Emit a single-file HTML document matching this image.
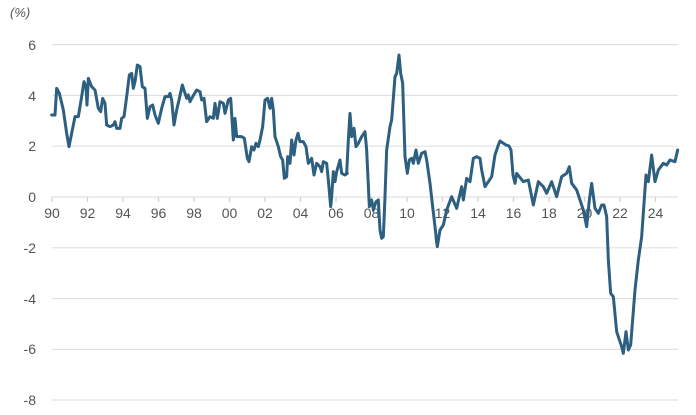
<!DOCTYPE html>
<html><head><style>
body{margin:0;background:#fff;}
svg{display:block;font-family:"Liberation Sans",sans-serif;}
</style></head><body>
<svg width="696" height="415" viewBox="0 0 696 415">
<text x="10" y="17" font-size="13" font-style="italic" fill="#555">(%)</text>
<g stroke="#e0e0e0" stroke-width="1.2">
<line x1="52" y1="44.6" x2="678" y2="44.6"/>
<line x1="52" y1="95.4" x2="678" y2="95.4"/>
<line x1="52" y1="146.2" x2="678" y2="146.2"/>
<line x1="52" y1="197" x2="678" y2="197"/>
<line x1="52" y1="247.8" x2="678" y2="247.8"/>
<line x1="52" y1="298.6" x2="678" y2="298.6"/>
<line x1="52" y1="349.4" x2="678" y2="349.4"/>
<line x1="52" y1="400" x2="678" y2="400"/>
</g>
<g stroke="#d0d0d0" stroke-width="1.2">
<line x1="52" y1="197" x2="52" y2="202"/><line x1="87.5" y1="197" x2="87.5" y2="202"/><line x1="123" y1="197" x2="123" y2="202"/><line x1="158.5" y1="197" x2="158.5" y2="202"/><line x1="194" y1="197" x2="194" y2="202"/><line x1="229.5" y1="197" x2="229.5" y2="202"/><line x1="265" y1="197" x2="265" y2="202"/><line x1="300.5" y1="197" x2="300.5" y2="202"/><line x1="336" y1="197" x2="336" y2="202"/><line x1="371.5" y1="197" x2="371.5" y2="202"/><line x1="407" y1="197" x2="407" y2="202"/><line x1="442.5" y1="197" x2="442.5" y2="202"/><line x1="478" y1="197" x2="478" y2="202"/><line x1="513.5" y1="197" x2="513.5" y2="202"/><line x1="549" y1="197" x2="549" y2="202"/><line x1="584.5" y1="197" x2="584.5" y2="202"/><line x1="620" y1="197" x2="620" y2="202"/><line x1="655.5" y1="197" x2="655.5" y2="202"/>
</g>
<g font-size="14" fill="#555" text-anchor="end">
<text x="36" y="50">6</text><text x="36" y="101">4</text><text x="36" y="151">2</text><text x="36" y="202">0</text>
<text x="36" y="253">-2</text><text x="36" y="304">-4</text><text x="36" y="354">-6</text><text x="36" y="405">-8</text>
</g>
<g font-size="14" fill="#555" text-anchor="middle">
<text x="52" y="218">90</text><text x="87.5" y="218">92</text><text x="123" y="218">94</text><text x="158.5" y="218">96</text><text x="194" y="218">98</text><text x="229.5" y="218">00</text><text x="265" y="218">02</text><text x="300.5" y="218">04</text><text x="336" y="218">06</text><text x="371.5" y="218">08</text><text x="407" y="218">10</text><text x="442.5" y="218">12</text><text x="478" y="218">14</text><text x="513.5" y="218">16</text><text x="549" y="218">18</text><text x="584.5" y="218">20</text><text x="620" y="218">22</text><text x="655.5" y="218">24</text>
</g>
<g fill="none" stroke="#2d5f80" stroke-width="9" stroke-linejoin="round" stroke-linecap="round">
<polyline transform="scale(0.33333)" points="155,345 165,345 170,265 178,280 190,330 200,400 207,440 215,400 225,350 235,350 245,290 252,245 258,260 261,315 265,235 275,260 285,270 295,325 302,335 308,295 315,310 320,375 330,380 340,375 345,365 350,385 360,385 365,355 372,350 380,290 388,225 395,220 400,265 405,245 412,195 420,200 427,260 435,265 442,355 450,320 458,315 465,345 475,370 485,325 495,290 505,290 510,280 515,300 522,375 530,330 537,300 547,255 555,280 560,295 565,285 570,305 578,290 590,270 600,275 605,300 612,295 620,365 630,350 640,355 645,310 652,355 660,305 670,310 675,340 685,300 692,295 700,420 705,355 710,410 725,410 733,415 742,475 747,485 755,440 762,450 768,430 775,440 780,420 788,380 795,300 803,295 810,325 815,295 820,330 825,410 835,440 842,470 848,480 853,535 860,530 863,470 870,490 875,420 882,465 888,420 894,400 900,425 910,425 918,440 925,490 935,475 942,525 950,490 960,500 965,515 970,485 980,490 985,540 992,620 995,590 1000,515 1005,545 1010,515 1020,480 1025,520 1035,525 1042,520"/>
<polyline transform="translate(330,40) scale(0.33333)" points="50,400 55,300 60,220 65,290 72,265 78,320 85,310 95,290 105,275 110,330 118,500 125,480 130,510 138,485 145,480 150,570 155,595 160,590 165,470 170,330 180,260 185,240 195,110 200,100 207,45 212,100 218,130 225,350 232,400 238,360 245,355 250,370 258,330 265,370 275,340 285,335 290,360 300,430 308,500 315,560 320,605"/>
<polyline transform="translate(400,150) scale(0.33333)" points="108,260 112,290 120,240 130,225 140,180 155,140 170,175 185,110 190,150 200,85 210,95 220,25 230,20 240,25 245,60 255,110 275,80 285,15 295,-15 300,-27 309,-21 318,-15 327,-12 333,0 339,75 345,100 350,70 370,95 385,90 400,165 415,95 430,110 440,130 455,95 470,140 485,80 500,70 508,50 515,100 530,120 540,150 550,180 560,230 568,150 575,100 585,175 595,190 605,165 612,165 620,200 625,330 632,430 640,440 650,545 665,590 670,610 678,545 685,600 692,585 705,420 715,330 725,260 738,75 745,95 755,15 765,95 775,60 790,40 800,45 810,30 825,35 833,0"/>
</g>
</svg>
</body></html>
